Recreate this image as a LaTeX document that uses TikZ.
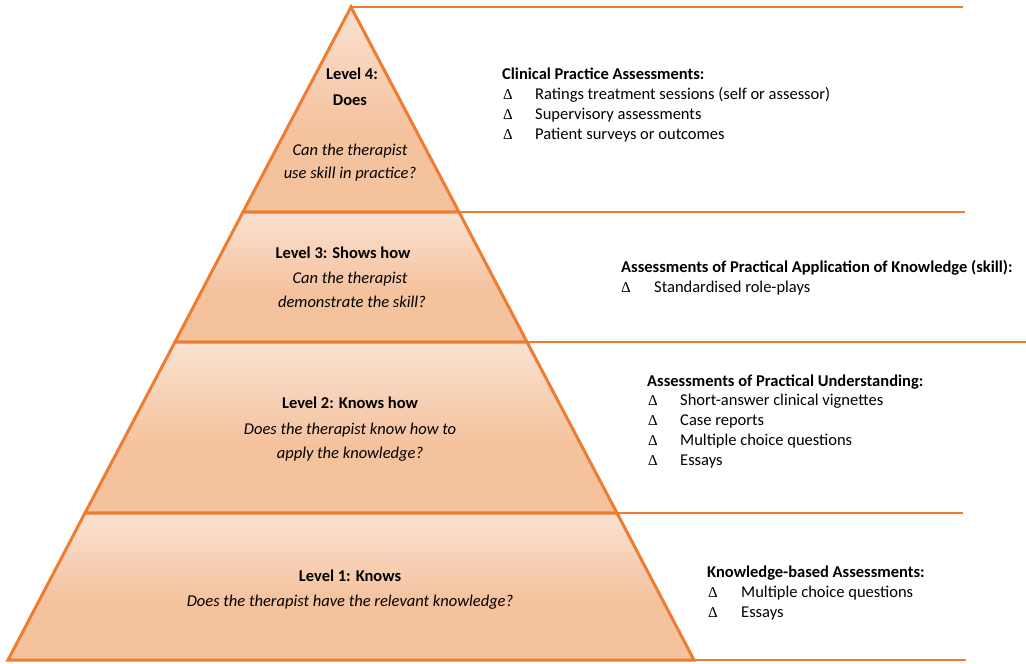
\documentclass[tikz,border=0pt]{standalone}
\usepackage{fontspec}
\setmainfont{Carlito}
\newfontfamily\deltafont{Liberation Serif}
\usepackage{tikz}

\definecolor{pyrline}{HTML}{ED7D31}
\definecolor{bandtop}{HTML}{FDF3EE}
\definecolor{banddark}{HTML}{F5C29E}
\definecolor{bandlow}{HTML}{F8D3BA}
\pgfdeclareverticalshading{bandshade}{100bp}{color(0bp)=(bandlow); color(8bp)=(bandlow); color(25bp)=(banddark); color(45bp)=(banddark); color(92bp)=(bandtop); color(100bp)=(bandtop)}

\tikzset{
  band/.style={draw=pyrline, line width=3pt, line join=miter, shading=bandshade},
  rule/.style={draw=pyrline, line width=2.8pt},
  lvl/.style={font=\fontsize{16.5}{20}\selectfont\bfseries, anchor=base},
  ask/.style={font=\fontsize{16.5}{20}\selectfont\itshape, anchor=base},
  head/.style={font=\fontsize{16.5}{20}\selectfont\bfseries, anchor=base west, inner sep=0pt},
  item/.style={font=\fontsize{16.5}{20}\selectfont, anchor=base west, inner sep=0pt},
  tri/.style={font=\fontsize{15}{20}\selectfont\deltafont, anchor=base west, inner sep=0pt}
}

\begin{document}
\begin{tikzpicture}[x=1pt,y=-1pt]
\useasboundingbox (0,0) rectangle (1026,664);

% corners of the pyramid
\coordinate (apex) at (351,7);
\coordinate (l3) at (243,212);
\coordinate (r3) at (459,212);
\coordinate (l2) at (175,342);
\coordinate (r2) at (527,342);
\coordinate (l1) at (85,513);
\coordinate (r1) at (617,513);
\coordinate (l0) at (8,660);
\coordinate (r0) at (694,660);

% ends of the rules
\coordinate (e4) at (963,7);
\coordinate (e3) at (965,212);
\coordinate (e2) at (1026,342);
\coordinate (e1) at (963,513);
\coordinate (e0) at (966,660);

\path[band] (apex) -- (r3) -- (l3) -- cycle;
\path[band] (l3) -- (r3) -- (r2) -- (l2) -- cycle;
\path[band] (l2) -- (r2) -- (r1) -- (l1) -- cycle;
\path[band] (l1) -- (r1) -- (r0) -- (l0) -- cycle;

\draw[rule] (apex) -- (e4);
\draw[rule] (r3) -- (e3);
\draw[rule] (r2) -- (e2);
\draw[rule] (r1) -- (e1);
\draw[rule] (r0) -- (e0);

% level 4
\node[lvl] (lv4a) at (352,79) {Level 4:};
\node[lvl] (lv4b) at (350,105) {Does};
\node[ask] (q4a) at (350,155) {Can the therapist};
\node[ask] (q4b) at (350,178) {use skill in practice?};

% level 3
\node[lvl] (lv3) at (343,258) {Level 3: Shows how};
\node[ask] (q3a) at (350,283) {Can the therapist};
\node[ask] (q3b) at (352,307) {demonstrate the skill?};

% level 2
\node[lvl] (lv2) at (350,408) {Level 2: Knows how};
\node[ask] (q2a) at (350,434) {Does the therapist know how to};
\node[ask] (q2b) at (350,458) {apply the knowledge?};

% level 1
\node[lvl] (lv1) at (350,581) {Level 1: Knows};
\node[ask] (q1) at (350,606) {Does the therapist have the relevant knowledge?};

% assessments, level 4
\node[head] (h4) at (502,79) {Clinical Practice Assessments:};
\node[tri] (t4a) at (503,99) {Δ};
\node[item] (i4a) at (535,99) {Ratings treatment sessions (self or assessor)};
\node[tri] (t4b) at (503,119) {Δ};
\node[item] (i4b) at (535,119) {Supervisory assessments};
\node[tri] (t4c) at (503,139) {Δ};
\node[item] (i4c) at (535,139) {Patient surveys or outcomes};

% assessments, level 3
\node[head] (h3) at (621,272) {Assessments of Practical Application of Knowledge (skill):};
\node[tri] (t3a) at (621,292) {Δ};
\node[item] (i3a) at (654,292) {Standardised role-plays};

% assessments, level 2
\node[head] (h2) at (647,386) {Assessments of Practical Understanding:};
\node[tri] (t2a) at (648,405) {Δ};
\node[item] (i2a) at (680,405) {Short-answer clinical vignettes};
\node[tri] (t2b) at (648,425) {Δ};
\node[item] (i2b) at (680,425) {Case reports};
\node[tri] (t2c) at (648,445) {Δ};
\node[item] (i2c) at (680,445) {Multiple choice questions};
\node[tri] (t2d) at (648,465) {Δ};
\node[item] (i2d) at (680,465) {Essays};

% assessments, level 1
\node[head] (h1) at (707,577) {Knowledge-based Assessments:};
\node[tri] (t1a) at (708,597) {Δ};
\node[item] (i1a) at (741,597) {Multiple choice questions};
\node[tri] (t1b) at (708,617) {Δ};
\node[item] (i1b) at (741,617) {Essays};

\end{tikzpicture}
\end{document}
